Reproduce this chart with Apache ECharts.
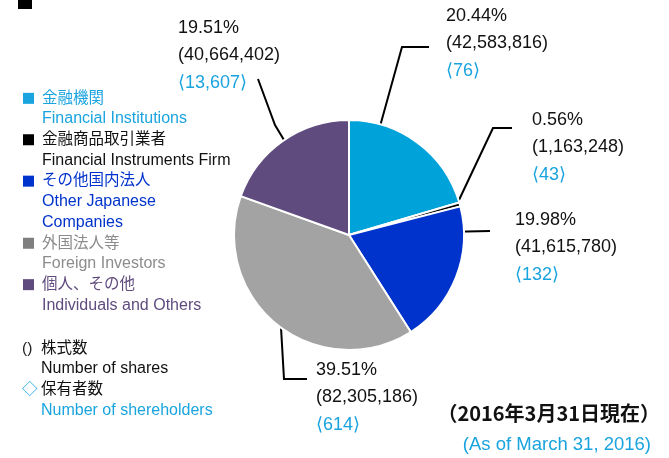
<!DOCTYPE html>
<html>
<head>
<meta charset="utf-8">
<title>株式分布状況</title>
<script src="https://cdn.jsdelivr.net/npm/echarts@6/dist/echarts.min.js"></script>
<style>
  html, body { margin: 0; padding: 0; background: #fff; }
  #chart { width: 669px; height: 458px; }
</style>
</head>
<body>
<div id="chart"></div>
<script>
// owner categories
const namesJa = ['金融機関', '金融商品取引業者', 'その他国内法人', '外国法人等', '個人、その他']
const namesEn = ['Financial Institutions', 'Financial Instruments Firm', 'Other Japanese\nCompanies', 'Foreign Investors', 'Individuals and Others']
// number of shares, share %, number of shareholders
const shares = [42583816, 1163248, 41615780, 82305186, 40664402]
const percents = ['20.44', '0.56', '19.98', '39.51', '19.51']
const holders = [76, 43, 132, 614, 13607]

const sliceColors = ['#00A2DA', '#000000', '#0033CC', '#A3A3A3', '#5F4B7E']
const textColors = ['#19A4DF', '#111111', '#0033CC', '#8C8C8C', '#5F4B7E']
const iconColors = ['#19A4DF', '#000000', '#0033CC', '#7F7F7F', '#5F4B7E']
const CYAN = '#19A4DF'

const txtFont = "'Liberation Sans', Arial, 'Noto Sans CJK JP', sans-serif"
const LH = 20.7

// label boxes (left, top) and leader lines for each slice
const labelPos = [[446, 2], [532, 106], [515, 206], [316, 356], [178, 14]]
const leaderLines = [
  [[374, 148], [402, 47], [429, 47]],
  [[459, 200], [493, 128], [512, 128]],
  [[444, 232], [467, 231.5], [490, 231]],
  [[279, 293], [284, 379], [307, 379]],
  [[293, 155], [275, 125], [258, 79]]
]

const fmt = n => n.toLocaleString('en-US')

const legendRich = {
  gap: { width: 8, fontSize: 15.5, lineHeight: LH },
  pad: { width: 19, fontSize: 15.5, lineHeight: LH }
}
namesJa.forEach((n, i) => {
  legendRich['sq' + i] = { width: 11, height: 11, backgroundColor: iconColors[i] }
  legendRich['t' + i] = { color: textColors[i], fontSize: 15.5, lineHeight: LH, fontFamily: txtFont }
  legendRich['e' + i] = { color: textColors[i], fontSize: 16, lineHeight: LH, fontFamily: txtFont }
})

const chart = echarts.init(document.getElementById('chart'))
chart.setOption({
  backgroundColor: '#fff',
  animation: false,
  legend: {
    orient: 'vertical',
    left: 17,
    top: 88,
    padding: 0,
    itemGap: 0,
    itemWidth: 0,
    itemHeight: 0,
    icon: 'rect',
    selectedMode: false,
    data: namesJa,
    formatter: name => {
      const i = namesJa.indexOf(name)
      const en = namesEn[i].split('\n').map(s => `{pad|}{e${i}|${s}}`).join('\n')
      return `{sq${i}|}{gap|}{t${i}|${name}}\n${en}`
    },
    textStyle: { fontSize: 15.5, lineHeight: LH, fontFamily: txtFont, rich: legendRich }
  },
  graphic: [
    { type: 'rect', shape: { x: 18, y: -5, width: 14, height: 14 }, style: { fill: '#000' } },
    {
      type: 'text', left: 22, top: 340.5,
      style: {
        text: '{k|()}{jp|株式数}\n{pad|}{en|Number of shares}\n{d|◇}{jp|保有者数}\n{pad|}{enc|Number of shereholders}',
        rich: {
          k: { width: 19, fontSize: 15.5, lineHeight: LH, fill: '#222', fontFamily: txtFont },
          d: { width: 19, fontSize: 15.5, lineHeight: LH, fill: CYAN, fontFamily: txtFont },
          pad: { width: 19, fontSize: 15.5, lineHeight: LH },
          jp: { fontSize: 15.5, lineHeight: LH, fill: '#111', fontFamily: txtFont },
          en: { fontSize: 16, lineHeight: LH, fill: '#111', fontFamily: txtFont },
          enc: { fontSize: 16, lineHeight: LH, fill: CYAN, fontFamily: txtFont }
        }
      }
    },
    {
      type: 'text', x: 660, y: 413,
      style: {
        text: '（2016年3月31日現在）', align: 'right', verticalAlign: 'middle',
        font: "bold 20px 'Noto Sans CJK JP', sans-serif", fill: '#111'
      }
    },
    {
      type: 'text', x: 651, y: 445,
      style: {
        text: '(As of March 31, 2016)', align: 'right', verticalAlign: 'middle',
        font: "18.5px " + txtFont, fill: CYAN
      }
    }
  ],
  series: [
    {
      type: 'pie',
      center: [349, 235],
      radius: 115,
      startAngle: 90,
      clockwise: true,
      avoidLabelOverlap: false,
      itemStyle: { borderColor: '#fff', borderWidth: 2 },
      emphasis: { disabled: true },
      data: namesJa.map((n, i) => ({ name: n, value: shares[i], itemStyle: { color: sliceColors[i] } })),
      label: {
        show: true,
        position: 'outside',
        formatter: p => {
          const i = p.dataIndex
          return `{pct|${percents[i]}%}\n{num|(${fmt(shares[i])})}\n{hold|⟨${fmt(holders[i])}⟩}`
        },
        rich: {
          pct: { fontSize: 18, lineHeight: 27.5, color: '#111', fontFamily: txtFont },
          num: { fontSize: 18, lineHeight: 27.5, color: '#111', fontFamily: txtFont },
          hold: { fontSize: 18, lineHeight: 27.5, color: CYAN, fontFamily: txtFont }
        }
      },
      labelLine: { show: true, lineStyle: { color: '#000', width: 2 } },
      labelLayout: params => ({
        x: labelPos[params.dataIndex][0],
        y: labelPos[params.dataIndex][1],
        align: 'left',
        verticalAlign: 'top',
        labelLinePoints: leaderLines[params.dataIndex]
      })
    }
  ]
})
</script>
</body>
</html>
